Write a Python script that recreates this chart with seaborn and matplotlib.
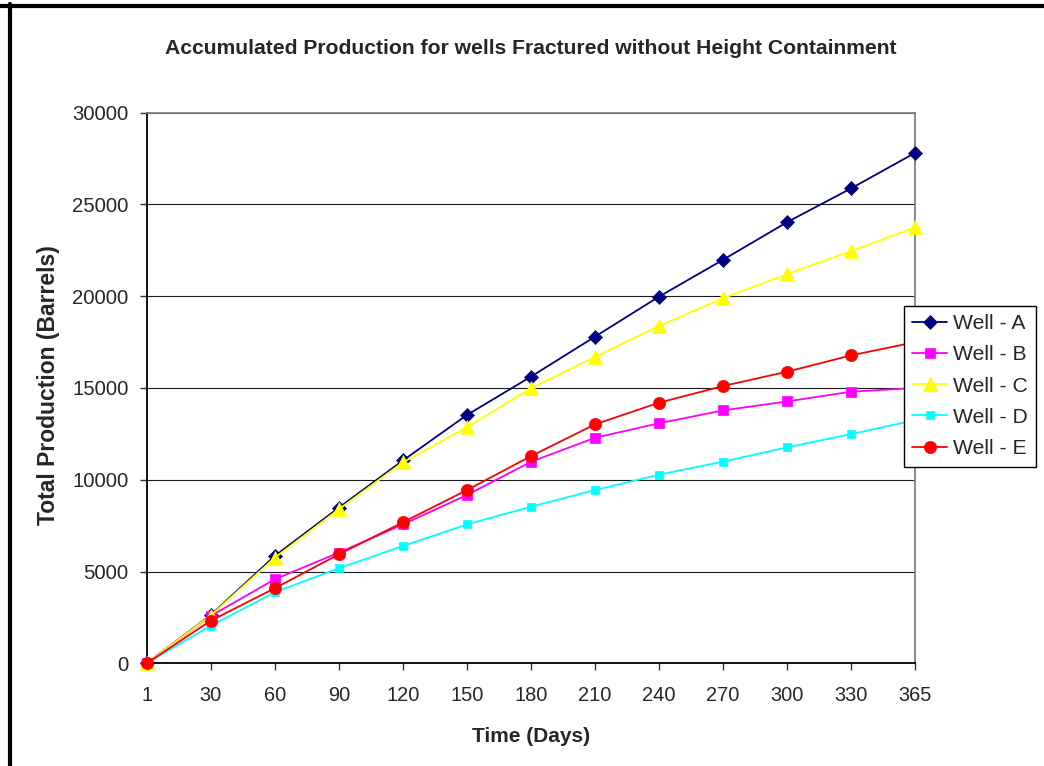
import numpy as np
import pandas as pd
import matplotlib
matplotlib.use("Agg")
import matplotlib.pyplot as plt
from matplotlib.lines import Line2D
import seaborn as sns

# values
days = ["1", "30", "60", "90", "120", "150", "180", "210", "240", "270", "300", "330", "365"]
well_a = [0, 2630, 5850, 8480, 11050, 13530, 15620, 17800, 19980, 21990, 24040, 25880, 27820]
well_b = [0, 2580, 4580, 6030, 7570, 9170, 10980, 12290, 13080, 13780, 14270, 14800, 15000]
well_c = [0, 2600, 5750, 8390, 10950, 12860, 14980, 16700, 18380, 19890, 21210, 22460, 23750]
well_d = [0, 2050, 3870, 5180, 6390, 7570, 8530, 9440, 10280, 10990, 11770, 12490, 13250]
well_e = [0, 2320, 4090, 5940, 7680, 9440, 11290, 13020, 14200, 15110, 15890, 16780, 17500]

names = ["Well - A", "Well - B", "Well - C", "Well - D", "Well - E"]
series = [well_a, well_b, well_c, well_d, well_e]
colors = ["#000080", "#FF00FF", "#FFFF00", "#00FFFF", "#FF0000"]
markers = ["D", "s", "^", "s", "o"]
msizes = [6.8, 7.2, 10, 6.0, 8.8]

sns.set_style("white")
plt.rcParams["font.family"] = ["Liberation Sans", "DejaVu Sans"]

fig = plt.figure(figsize=(10.44, 7.66), dpi=100)
W, H = 1044, 766
ax = fig.add_axes([146.7 / W, 1 - 663.3 / H, (915.3 - 146.7) / W, (663.3 - 112.7) / H])

pos = np.arange(len(days))
for name, vals, c, m, ms in zip(names, series, colors, markers, msizes):
    df = pd.DataFrame({"pos": pos, "value": vals})
    sns.lineplot(data=df, x="pos", y="value", ax=ax, color=c, marker=m,
                 markersize=ms, markeredgecolor=c, markeredgewidth=0.5,
                 linewidth=1.3, label=name, clip_on=False, zorder=3)

ax.set_xlim(0, len(days) - 1)
ax.set_ylim(0, 30000)
ax.set_xticks(pos)
ax.set_xticklabels(days)
ax.set_yticks(np.arange(0, 30001, 5000))
ax.grid(axis="y", color="#1a1a1a", linewidth=0.8)
ax.set_axisbelow(True)

for side in ["top", "right"]:
    ax.spines[side].set_color("#808080")
    ax.spines[side].set_linewidth(1.3)
for side in ["left", "bottom"]:
    ax.spines[side].set_color("black")
    ax.spines[side].set_linewidth(1.3)

ax.tick_params(axis="x", direction="out", length=5, width=1, color="#333333",
               labelsize=14.4, pad=11, bottom=True)
ax.tick_params(axis="y", direction="out", length=5, width=1, color="#333333",
               labelsize=14.6, pad=8, left=True)

ax.set_title("Accumulated Production for wells Fractured without Height Containment",
             fontsize=15.2, fontweight="bold", pad=42)
ax.set_xlabel("Time (Days)", fontsize=15, fontweight="bold")
ax.set_ylabel("Total Production (Barrels)", fontsize=16.5, fontweight="bold")
ax.xaxis.set_label_coords(0.5, (663.3 - 737) / 550.6)
ax.xaxis.label.set_va("center")
ax.yaxis.set_label_coords((48 - 146.7) / 768.6, (663.3 - 385) / 550.6)
ax.yaxis.label.set_va("center")

leg = ax.legend(loc="upper left", bbox_to_anchor=(904 / W, 1 - 305.7 / H),
                bbox_transform=fig.transFigure, borderaxespad=0, fontsize=15.2,
                frameon=True, fancybox=False, edgecolor="black", framealpha=1,
                handlelength=1.65, handletextpad=0.28, labelspacing=0.58,
                borderpad=0.4)
leg.get_frame().set_linewidth(1.0)
leg.set_zorder(10)

# outer chart frame (top and left edges)
fig.add_artist(Line2D([0, 1], [1 - 6 / H, 1 - 6 / H], transform=fig.transFigure,
                      color="black", linewidth=3))
fig.add_artist(Line2D([10 / W, 10 / W], [0, 1 - 4 / H], transform=fig.transFigure,
                      color="black", linewidth=3))

fig.savefig("out.png", dpi=100)
